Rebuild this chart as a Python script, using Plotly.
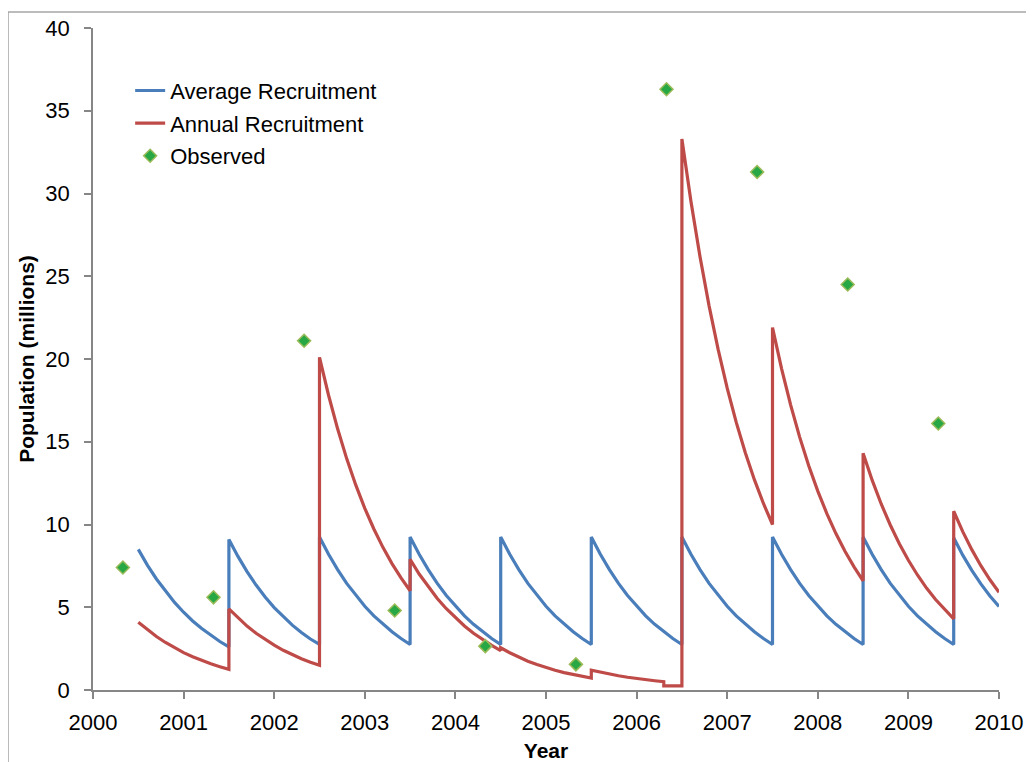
import plotly.graph_objects as go

# ---------------- data ----------------
# Each segment: start year, then values every 0.1 year
avg_starts = [2000.5, 2001.5, 2002.5, 2003.5, 2004.5, 2005.5, 2006.5, 2007.5, 2008.5, 2009.5]
avg_values = [
    [8.50, 7.55, 6.71, 5.96, 5.29, 4.70, 4.17, 3.71, 3.29, 2.93, 2.60],
    [9.10, 8.07, 7.15, 6.34, 5.62, 4.98, 4.42, 3.92, 3.47, 3.08, 2.75],
    [9.25, 8.20, 7.27, 6.44, 5.71, 5.06, 4.48, 3.97, 3.52, 3.11, 2.75],
    [9.25, 8.20, 7.27, 6.44, 5.71, 5.06, 4.48, 3.97, 3.52, 3.11, 2.75],
    [9.25, 8.20, 7.27, 6.44, 5.71, 5.06, 4.48, 3.97, 3.52, 3.11, 2.75],
    [9.25, 8.20, 7.27, 6.44, 5.71, 5.06, 4.48, 3.97, 3.52, 3.11, 2.75],
    [9.25, 8.20, 7.27, 6.44, 5.71, 5.06, 4.48, 3.97, 3.52, 3.11, 2.75],
    [9.25, 8.20, 7.27, 6.44, 5.71, 5.06, 4.48, 3.97, 3.52, 3.11, 2.75],
    [9.25, 8.20, 7.27, 6.44, 5.71, 5.06, 4.48, 3.97, 3.52, 3.11, 2.75],
    [9.20, 8.15, 7.23, 6.41, 5.68, 5.05],
]

ann_starts = [2000.5, 2001.5, 2002.5, 2003.5, 2004.5, 2005.5, 2006.3, 2006.5, 2007.5, 2008.5, 2009.5]
ann_values = [
    [4.10, 3.64, 3.23, 2.87, 2.55, 2.26, 2.01, 1.78, 1.58, 1.41, 1.25],
    [4.90, 4.35, 3.86, 3.43, 3.05, 2.71, 2.40, 2.13, 1.89, 1.68, 1.50],
    [20.10, 17.81, 15.78, 13.98, 12.39, 10.98, 9.73, 8.62, 7.64, 6.77, 6.00],
    [7.90, 7.01, 6.23, 5.53, 4.91, 4.36, 3.87, 3.43, 3.05, 2.70, 2.38],
    [2.55, 2.25, 1.98, 1.74, 1.54, 1.35, 1.19, 1.05, 0.93, 0.82, 0.72],
    [1.20, 1.08, 0.96, 0.86, 0.77, 0.69, 0.62, 0.56, 0.50],
    [0.25, 0.25, 0.25],
    [33.30, 29.52, 26.18, 23.21, 20.58, 18.24, 16.17, 14.34, 12.71, 11.27, 10.00],
    [21.90, 19.42, 17.23, 15.28, 13.55, 12.02, 10.66, 9.45, 8.38, 7.44, 6.60],
    [14.30, 12.68, 11.24, 9.97, 8.84, 7.84, 6.95, 6.16, 5.47, 4.85, 4.30],
    [10.80, 9.57, 8.48, 7.51, 6.66, 5.90],
]
sample_step = 0.1

obs_x = [2000.33, 2001.33, 2002.33, 2003.33, 2004.33, 2005.33, 2006.33, 2007.33, 2008.33, 2009.33]
obs_y = [7.4, 5.6, 21.1, 4.8, 2.65, 1.55, 36.3, 31.3, 24.5, 16.1]

x_ticks = list(range(2000, 2011))
y_ticks = list(range(0, 41, 5))


def build(starts, values):
    xs, ys = [], []
    for s, vals in zip(starts, values):
        for i, v in enumerate(vals):
            xs.append(round(s + i * sample_step, 4))
            ys.append(v)
    return xs, ys


avg_x, avg_y = build(avg_starts, avg_values)
ann_x, ann_y = build(ann_starts, ann_values)

BLUE = "#4A7EBB"
RED = "#BE4B48"
AXIS = "#868686"
FONT = "Liberation Sans"

fig = go.Figure()
fig.add_trace(go.Scatter(x=avg_x, y=avg_y, mode="lines", name="Average Recruitment",
                         line=dict(color=BLUE, width=3.2), legendgroup="a"))
fig.add_trace(go.Scatter(x=ann_x, y=ann_y, mode="lines", name="Annual Recruitment",
                         line=dict(color=RED, width=3.2), legendgroup="b"))
fig.add_trace(go.Scatter(x=obs_x, y=obs_y, mode="markers", name="Observed",
                         marker=dict(symbol="diamond", size=10, color="#27A844",
                                     line=dict(color="#9BBB59", width=1.5)),
                         legendgroup="c"))

fig.update_layout(
    width=1026, height=754, autosize=False,
    margin=dict(l=85, r=35, t=20, b=72),
    paper_bgcolor="white", plot_bgcolor="white",
    font=dict(family=FONT, size=22, color="black"),
    showlegend=True,
    legend=dict(x=0.041, y=0.937, xanchor="left", yanchor="top",
                bgcolor="rgba(0,0,0,0)", font=dict(size=22, family=FONT),
                itemwidth=30, tracegroupgap=1, traceorder="grouped"),
    xaxis=dict(range=[2000, 2010], tickvals=x_ticks, ticktext=[str(t) for t in x_ticks],
               automargin=False,
               showgrid=False, zeroline=False, showline=True, linecolor=AXIS, linewidth=1.5,
               ticks="outside", ticklen=7, tickcolor=AXIS, tickwidth=1.5,
               tickfont=dict(size=22, family=FONT), ticklabelstandoff=5,
               title=dict(text="<b>Year</b>", font=dict(size=21, family=FONT), standoff=11)),
    yaxis=dict(range=[0, 40], tickvals=y_ticks, automargin=False,
               showgrid=False, zeroline=False, showline=True, linecolor=AXIS, linewidth=1.5,
               ticks="outside", ticklen=7, tickcolor=AXIS, tickwidth=1.5,
               tickfont=dict(size=22, family=FONT), ticklabelstandoff=10,
               title=dict(text="<b>Population (millions)</b>", font=dict(size=21, family=FONT),
                          standoff=5)),
    shapes=[dict(type="rect", xref="paper", yref="paper",
                 x0=-0.0938, y0=-0.3, x1=1.2, y1=1.0242,
                 line=dict(color="#A6A6A6", width=1.5), fillcolor="rgba(0,0,0,0)",
                 layer="below")],
)

fig.write_html("out.html")
